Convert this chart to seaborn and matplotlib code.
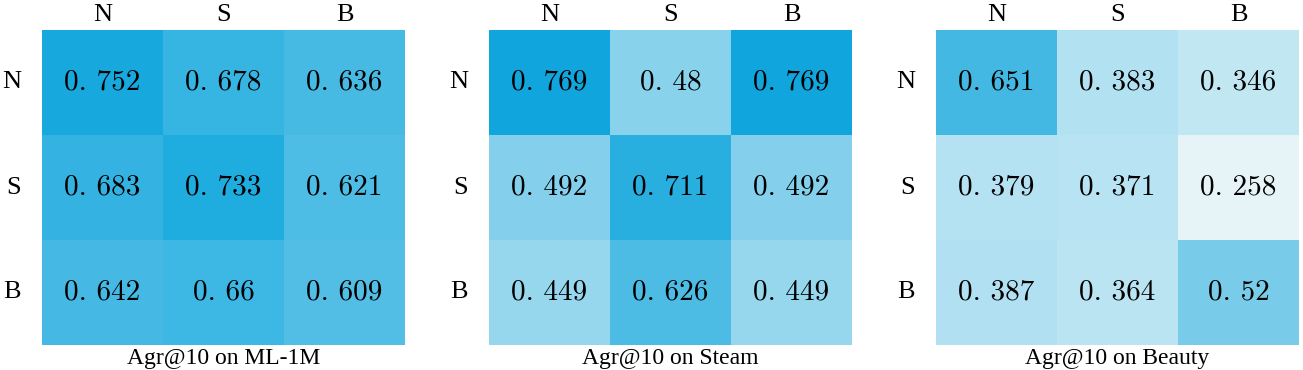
import numpy as np
import matplotlib
matplotlib.use("Agg")
import matplotlib.pyplot as plt
import seaborn as sns
from matplotlib.colors import LinearSegmentedColormap

labels = ["N", "S", "B"]
titles = ["Agr@10 on ML-1M", "Agr@10 on Steam", "Agr@10 on Beauty"]

ml1m = [[0.752, 0.678, 0.636],
        [0.683, 0.733, 0.621],
        [0.642, 0.66, 0.609]]
steam = [[0.769, 0.48, 0.769],
         [0.492, 0.711, 0.492],
         [0.449, 0.626, 0.449]]
beauty = [[0.651, 0.383, 0.346],
          [0.379, 0.371, 0.258],
          [0.387, 0.364, 0.52]]

sns.set_style("white")
plt.rcParams["font.family"] = ["Liberation Serif", "DejaVu Serif"]
plt.rcParams["text.color"] = "black"
plt.rcParams["axes.labelcolor"] = "black"
plt.rcParams["xtick.color"] = "black"
plt.rcParams["ytick.color"] = "black"

cmap = LinearSegmentedColormap.from_list("agr", ["#e6f4f8", "#10a6dd"])
all_vals = np.array([ml1m, steam, beauty])
vmin, vmax = all_vals.min(), all_vals.max()

fig = plt.figure(figsize=(13.03, 3.70), dpi=100)
lefts = [42, 489, 936]

for left, data, title in zip(lefts, [ml1m, steam, beauty], titles):
    ax = fig.add_axes([left / 1303, 25 / 370, 363 / 1303, 315 / 370])
    arr = np.array(data)
    annot = np.array([[("%g" % v).replace(".", ". ") for v in row] for row in arr])
    sns.heatmap(arr, ax=ax, cmap=cmap, vmin=vmin, vmax=vmax, cbar=False,
                annot=annot, fmt="",
                annot_kws={"fontsize": 21, "color": "black", "family": "cmr10"},
                xticklabels=labels, yticklabels=labels)
    ax.xaxis.tick_top()
    ax.tick_params(axis="both", length=0, labelsize=19, labelcolor="black")
    ax.tick_params(axis="x", pad=3)
    ax.tick_params(axis="y", pad=15)
    plt.setp(ax.get_yticklabels(), rotation=0)
    ax.set_xlabel(title, fontsize=17, labelpad=2, color="black")

fig.savefig("out.png", dpi=100)
